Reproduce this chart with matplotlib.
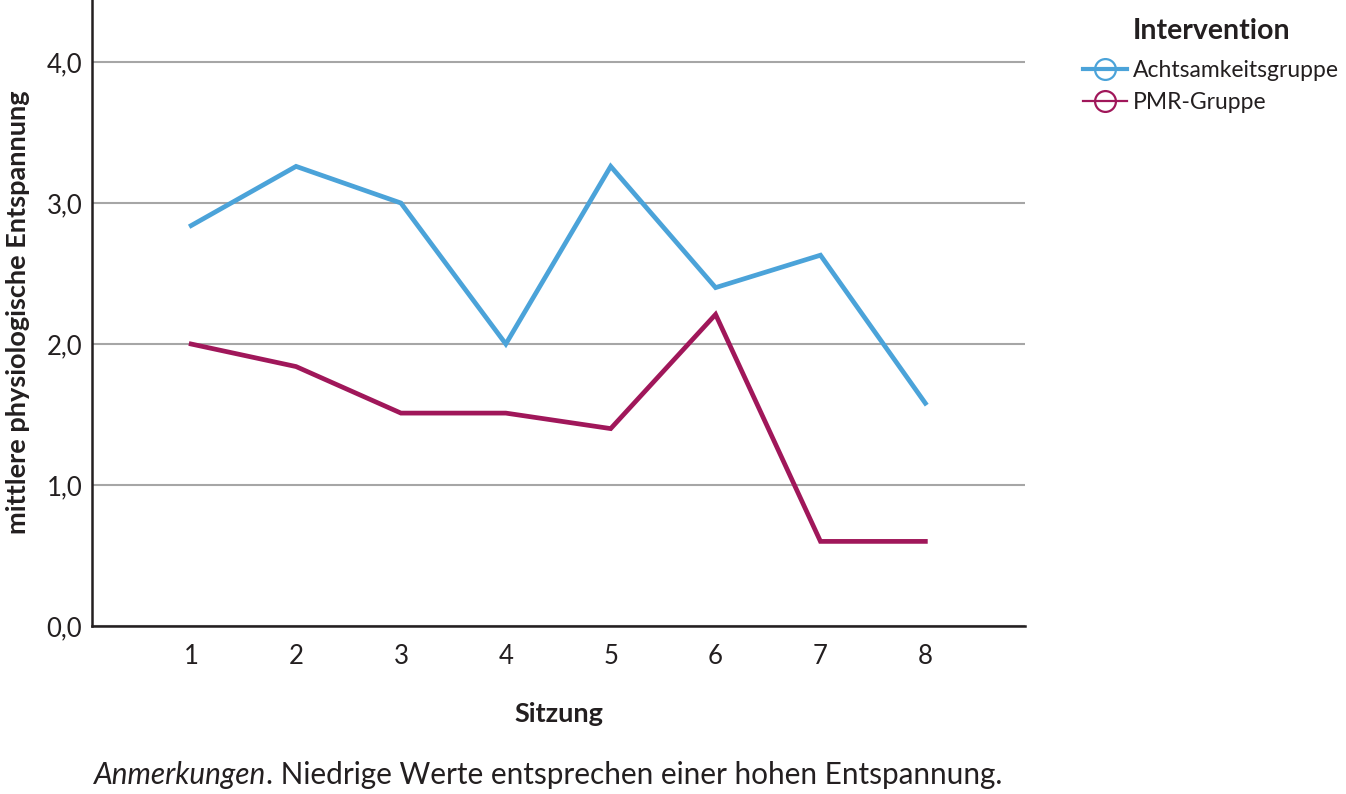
import matplotlib as mpl
import matplotlib.pyplot as plt
from matplotlib.lines import Line2D

mpl.use("Agg")

plt.rcParams["font.family"] = ["Lato", "DejaVu Sans"]

sessions = [1, 2, 3, 4, 5, 6, 7, 8]
achtsamkeit = [2.84, 3.26, 3.00, 2.00, 3.26, 2.40, 2.63, 1.58]
pmr = [2.00, 1.84, 1.51, 1.51, 1.40, 2.21, 0.60, 0.60]
y_ticks = [0, 1, 2, 3, 4]
y_labels = ["0,0", "1,0", "2,0", "3,0", "4,0"]

blue = "#4ba3d9"
red = "#a0175a"
ink = "#231f20"

fig = plt.figure(figsize=(13.46, 7.94), dpi=100)
ax = fig.add_axes([0.0684, 0.2116, 0.6931, 0.7884])

ax.plot(sessions, achtsamkeit, color=blue, linewidth=3.4, solid_joinstyle="miter")
ax.plot(sessions, pmr, color=red, linewidth=3.4, solid_joinstyle="miter")

ax.set_xlim(0.055, 8.95)
ax.set_ylim(0, 4.44)
ax.set_xticks(sessions)
ax.set_yticks(y_ticks)
ax.set_yticklabels(y_labels)
ax.tick_params(length=0, labelsize=18.5, colors=ink, pad=7)
ax.tick_params(axis="x", pad=13)
ax.grid(axis="y", color="#a6a6a6", linewidth=1.5)
ax.set_axisbelow(True)

for side in ["top", "right"]:
    ax.spines[side].set_visible(False)
for side in ["left", "bottom"]:
    ax.spines[side].set_linewidth(1.8)
    ax.spines[side].set_color(ink)

ax.set_xlabel("Sitzung", fontsize=19.5, fontweight="bold", labelpad=24, color=ink)
fig.text(0.0135, 0.607, "mittlere physiologische Entspannung", fontsize=19.5,
         fontweight="bold", rotation=90, ha="center", va="center", color=ink)

# legend
handles = [
    Line2D([], [], color=blue, linewidth=3, marker="o", markersize=15,
           markerfacecolor="none", markeredgecolor=blue, markeredgewidth=1.6),
    Line2D([], [], color=red, linewidth=1.6, marker="o", markersize=15,
           markerfacecolor="none", markeredgecolor=red, markeredgewidth=1.6),
]
leg = fig.legend(handles, ["Achtsamkeitsgruppe", "PMR-Gruppe"],
                 loc="upper left", bbox_to_anchor=(0.798, 0.936),
                 frameon=False, fontsize=16.5, handlelength=1.9,
                 handletextpad=0.25, labelspacing=0.5, borderaxespad=0)
for t in leg.get_texts():
    t.set_color(ink)
fig.text(0.9, 0.961, "Intervention", fontsize=20.5, fontweight="bold",
         ha="center", va="center", color=ink)

# caption: italic part, then the rest placed right after it
cap1 = fig.text(0.070, 0.024, "Anmerkungen", fontsize=21.4, style="italic",
                ha="left", va="center", color=ink)
renderer = fig.canvas.get_renderer()
bb = cap1.get_window_extent(renderer).transformed(fig.transFigure.inverted())
fig.text(bb.x1, 0.024, ". Niedrige Werte entsprechen einer hohen Entspannung.",
         fontsize=21.4, ha="left", va="center", color=ink)

fig.savefig("out.png", dpi=100)
plt.close(fig)
